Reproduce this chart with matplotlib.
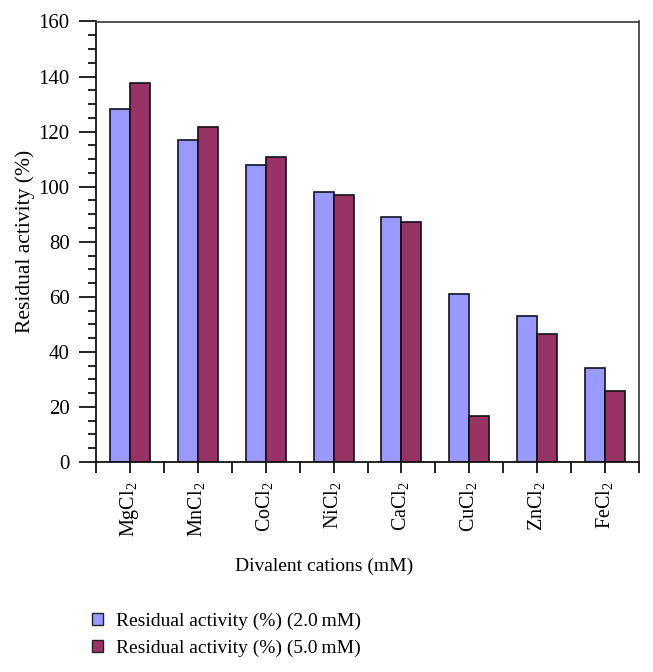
import matplotlib
matplotlib.use("Agg")
import matplotlib.pyplot as plt
import numpy as np
from matplotlib.patches import Patch

plt.rcParams['font.family'] = ['Liberation Serif', 'DejaVu Serif']
plt.rcParams['mathtext.fontset'] = 'custom'
plt.rcParams['mathtext.rm'] = 'Liberation Serif'

categories = ["MgCl$_\\mathregular{2}$", "MnCl$_\\mathregular{2}$", "CoCl$_\\mathregular{2}$",
              "NiCl$_\\mathregular{2}$", "CaCl$_\\mathregular{2}$", "CuCl$_\\mathregular{2}$",
              "ZnCl$_\\mathregular{2}$", "FeCl$_\\mathregular{2}$"]
act_2mM = [128.1, 117.1, 108.0, 98.2, 89.0, 61.0, 52.9, 34.1]
act_5mM = [137.8, 121.7, 110.8, 97.0, 87.3, 16.8, 46.6, 25.9]
series_labels = ["Residual activity (%) (2.0\u2009mM)", "Residual activity (%) (5.0\u2009mM)"]
colors = ["#9999FF", "#993366"]

fig = plt.figure(figsize=(6.53, 6.72), dpi=100)
ax = fig.add_axes([96/653, 210/672, 543/653, 440.5/672])

x = np.arange(len(categories))
w = 0.294
ax.bar(x - w/2, act_2mM, w, color=colors[0], edgecolor="#111122", linewidth=1.2)
ax.bar(x + w/2, act_5mM, w, color=colors[1], edgecolor="#111111", linewidth=1.2)

ax.set_xlim(-0.5, len(categories) - 0.5)
ax.set_ylim(0, 160)
ax.set_yticks(np.arange(0, 161, 20))
ax.set_yticks(np.arange(0, 161, 5), minor=True)
ax.set_xticks(x)
ax.set_xticklabels(categories, rotation=90, fontsize=14.5)
ax.set_xticks(np.arange(-0.5, len(categories), 1.0), minor=True)
ax.tick_params(axis='y', which='major', length=12, width=1.2, direction='out', labelsize=15, pad=7)
ax.tick_params(axis='y', which='minor', length=6, width=1.2, direction='out')
ax.tick_params(axis='x', which='both', length=8, width=1.2, direction='out', pad=6)

for s in ['left', 'bottom']:
    ax.spines[s].set_color('#111111')
    ax.spines[s].set_linewidth(1.3)
for s in ['top', 'right']:
    ax.spines[s].set_color('#444444')
    ax.spines[s].set_linewidth(1.3)

ax.set_ylabel("Residual activity (%)", fontsize=15.5)
ax.yaxis.set_label_coords(-0.112, 0.5)
ax.set_xlabel("Divalent cations (mM)", fontsize=14)
ax.xaxis.set_label_coords(0.42, -0.217)

handles = [Patch(facecolor=colors[0], edgecolor="#222222", linewidth=1.0),
           Patch(facecolor=colors[1], edgecolor="#222222", linewidth=1.0)]
fig.legend(handles, series_labels, loc='upper left', bbox_to_anchor=(0.141, 0.088),
           frameon=False, fontsize=14, handlelength=0.55, handleheight=0.55,
           handletextpad=0.7, labelspacing=0.5, borderaxespad=0, borderpad=0)

fig.savefig("out.png", dpi=100)
